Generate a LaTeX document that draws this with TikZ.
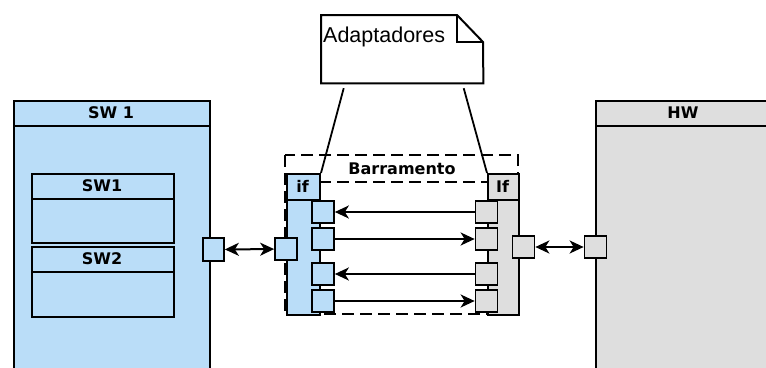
\documentclass[tikz,border=0pt]{standalone}
\usepackage{fontspec}
\setmainfont{Liberation Sans}
\newfontfamily\titlefont{DejaVu Sans}
\usetikzlibrary{arrows, arrows.meta, calc, positioning}
\definecolor{swblue}{HTML}{BADDF8}
\definecolor{hwgray}{HTML}{DEDEDE}
\tikzset{box/.style={draw, line width=2pt, inner sep=0pt, anchor=north west},
	port/.style={draw, line width=1.7pt, minimum width=22pt, minimum height=22pt, inner sep=0pt},
	link/.style={-{Stealth[length=14pt, width=13pt, inset=4pt]}, line width=2pt},
	both/.style={{Stealth[length=14pt, width=13pt, inset=4pt]}-{Stealth[length=14pt, width=13pt, inset=4pt]}, line width=2pt},
	title/.style={font=\titlefont\bfseries\fontsize{16}{16}\selectfont}}

\begin{document}
\begin{tikzpicture}[x=1pt, y=-1pt]
		\useasboundingbox (0,0) rectangle (766,367);
		% software side
		\node[box, fill=swblue, minimum width=196pt, minimum height=275pt] (sw) at (13,100) {};
		\draw[line width=2pt] (13,126) -- (209,126);
		\node[title] at (111,113) {SW 1};
		\node[box, fill=swblue, minimum width=142pt, minimum height=69pt] (swa) at (31,173) {};
		\draw[line width=2pt] (31,199) -- (173,199);
		\node[title] at (102,186) {SW1};
		\node[box, fill=swblue, minimum width=142pt, minimum height=70pt] (swb) at (31,246) {};
		\draw[line width=2pt] (31,272) -- (173,272);
		\node[title] at (102,259) {SW2};
		\node[port, fill=swblue, minimum width=21pt, minimum height=23pt] (swp) at (213.5,249.5) {};
		
		% hardware side
		\node[box, fill=hwgray, minimum width=180pt, minimum height=275pt] (hw) at (595,100) {};
		\draw[line width=2pt] (595,126) -- (775,126);
		\node[title] at (683,113) {HW};
		\node[port, fill=hwgray] (hwp) at (595.5,247) {};
		
		% bus
		\draw[dash pattern=on 12pt off 6pt, line width=2pt] (285,155) rectangle (518,314);
		\draw[dash pattern=on 12pt off 6pt, line width=2pt] (319,182) -- (487,182);
		\node[title] at (402,169) {Barramento};
		
		\node[box, fill=swblue, minimum width=33pt, minimum height=141pt] (ifl) at (286,173) {};
		\draw[line width=2pt] (286,200) -- (319,200);
		\node[title] at (302.5,186.5) {if};
		\node[box, fill=hwgray, minimum width=31pt, minimum height=141pt] (ifr) at (487,173) {};
		\draw[line width=2pt] (487,200) -- (518,200);
		\node[title] at (502.5,186.5) {If};
		
		\node[port, fill=swblue] (ifo) at (286,249) {};
		\node[port, fill=hwgray] (iro) at (523.5,247) {};
		\foreach \n/\y in {1/212, 2/239, 3/274, 4/301} {
			\node[port, fill=swblue] (l\n) at (323,\y) {};
			\node[port, fill=hwgray] (r\n) at (486.5,\y) {};
		}
		
		% links
		\draw[both] (swp) -- (ifo);
		\draw[both] (iro) -- (hwp);
		\draw[link] (r1) -- (l1);
		\draw[link] (l2) -- (r2);
		\draw[link] (r3) -- (l3);
		\draw[link] (l4) -- (r4);
		
		% note
		\node[anchor=north west, minimum width=162pt, minimum height=68pt, inner sep=0pt] (note) at (321,15) {};
		\draw[line width=2pt, fill=white] (note.north west) -- ++(136,0) -- ++(26,27) -- (note.south east) -- (note.south west) -- cycle;
		\draw[line width=2pt] ($(note.north west)+(136,0)$) -- ++(0,27) -- ++(26,0);
		\node[anchor=west, inner sep=0pt, font=\fontsize{21.5}{21.5}\selectfont] at (323,37) {Adaptadores};
		\draw[line width=1.8pt, shorten <=5pt] ($(note.south west)+(24,0)$) -- (ifl.north east);
		\draw[line width=1.8pt, shorten <=5pt] ($(note.south east)+(-21,0)$) -- (ifr.north west);
	\end{tikzpicture}
\end{document}
